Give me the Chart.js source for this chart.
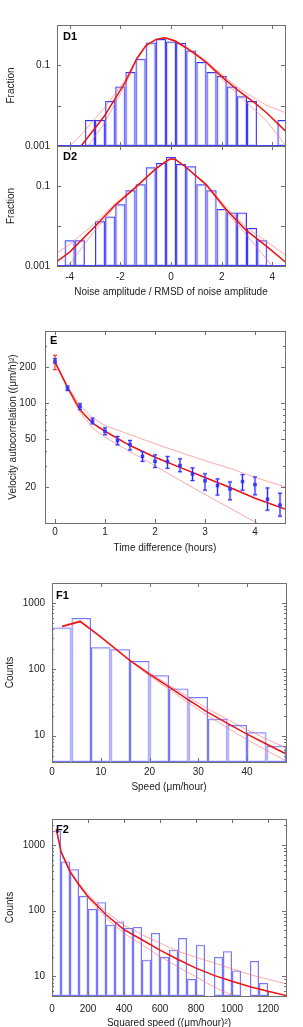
<!DOCTYPE html>
<html>
<head>
<meta charset="utf-8">
<script src="https://cdn.jsdelivr.net/npm/chart.js@4.4.1/dist/chart.umd.min.js"></script>
<style>
  html, body { margin: 0; padding: 0; background: #fff; }
  #wrap { position: relative; width: 303px; height: 1027px; overflow: hidden; }
  canvas { position: absolute; left: 0; }
</style>
</head>
<body>
<div id="wrap">
  <canvas id="d2"></canvas>
  <canvas id="d1"></canvas>
  <canvas id="e"></canvas>
  <canvas id="f1"></canvas>
  <canvas id="f2"></canvas>
</div>
<script>
// --- D1 / D2 : noise amplitude histograms (bin centres, width 0.4) ---
const dBins = [-4.0, -3.6, -3.2, -2.8, -2.4, -2.0, -1.6, -1.2, -0.8, -0.4, 0.0, 0.4, 0.8, 1.2, 1.6, 2.0, 2.4, 2.8, 3.2, 3.6, 4.0, 4.4];
const d1Frac = [null, null, 0.0044, 0.0044, 0.0131, 0.030, 0.068, 0.146, 0.37, 0.447, 0.39, 0.356, 0.234, 0.121, 0.068, 0.0545, 0.030, 0.0172, 0.0131, null, null, 0.0044];
const d2Frac = [0.0044, 0.0044, null, 0.0131, 0.0172, 0.0352, 0.078, 0.11, 0.294, 0.377, 0.53, 0.356, 0.312, 0.11, 0.078, 0.0265, 0.0219, 0.0219, 0.00885, 0.0044, null, null];

const d1FitX = [-3.55, -2.65, -1.84, -1.35, -0.99, -0.59, -0.24, 0.17, 0.59, 0.98, 1.38, 1.77, 2.16, 2.56, 2.95, 3.37, 3.77, 4.5];
const d1Fit  = [0.001, 0.0053, 0.035, 0.146, 0.31, 0.44, 0.48, 0.40, 0.273, 0.187, 0.121, 0.072, 0.043, 0.0265, 0.0172, 0.0109, 0.0067, 0.0024];
const d1HiX  = [-4.0, -3.55, -2.65, -1.84, -1.35, -0.99, -0.59, -0.24, 0.17, 0.59, 0.98, 1.38, 1.77, 2.16, 2.56, 2.95, 3.37, 3.77, 4.5];
const d1Hi   = [0.001, 0.0019, 0.0085, 0.040, 0.15, 0.31, 0.44, 0.49, 0.41, 0.285, 0.196, 0.13, 0.08, 0.049, 0.031, 0.021, 0.0145, 0.0102, 0.0068];
const d1LoX  = [-3.27, -2.65, -1.84, -1.35, -0.99, -0.59, -0.24, 0.17, 0.59, 0.98, 1.38, 1.77, 2.16, 2.56, 2.95, 3.37, 3.77, 4.5];
const d1Lo   = [0.001, 0.0035, 0.030, 0.14, 0.31, 0.44, 0.48, 0.39, 0.265, 0.178, 0.112, 0.066, 0.037, 0.021, 0.0125, 0.0072, 0.0042, 0.0011];

const d2FitX = [-4.5, -3.99, -3.05, -2.23, -1.41, -0.59, -0.2, 0.0, 0.19, 0.59, 1.38, 2.16, 2.95, 3.8, 4.5];
const d2Fit  = [0.0013, 0.00226, 0.009, 0.032, 0.091, 0.273, 0.414, 0.482, 0.455, 0.294, 0.11, 0.0266, 0.008, 0.003, 0.00128];
const d2Hi   = [0.0021, 0.0035, 0.011, 0.035, 0.095, 0.28, 0.41, 0.47, 0.45, 0.30, 0.115, 0.030, 0.0095, 0.004, 0.0019];
const d2LoX  = [-4.07, -3.05, -2.23, -1.41, -0.59, -0.2, 0.0, 0.19, 0.59, 1.38, 2.16, 2.95, 3.6, 4.0];
const d2Lo   = [0.001, 0.007, 0.030, 0.088, 0.27, 0.42, 0.50, 0.46, 0.29, 0.105, 0.024, 0.0063, 0.002, 0.001];

const dXTicks = [-4, -2, 0, 2, 4];
const dYTicks = [0.001, 0.01, 0.1];
const dYLabels = [0.001, 0.1];

// --- E : velocity autocorrelation ---
const eT   = [0, 0.25, 0.5, 0.75, 1.0, 1.25, 1.5, 1.75, 2.0, 2.25, 2.5, 2.75, 3.0, 3.25, 3.5, 3.75, 4.0, 4.25, 4.5];
const eVal = [224, 133.5, 93.8, 70.7, 58.3, 48.7, 45.2, 36.0, 32.7, 32.5, 30.1, 25.6, 22.5, 20.5, 19.2, 22.2, 20.9, 15.8, 14.1];
const eLo  = [216, 127.7, 88.6, 67.2, 54.5, 44.9, 40.7, 32.7, 29.1, 28.6, 26.8, 22.6, 18.8, 17.1, 15.6, 18.8, 17.2, 12.8, 11.4];
const eHi  = [235, 138.8, 98.8, 74.9, 62.2, 52.6, 48.7, 39.4, 37.0, 35.8, 34.3, 28.8, 25.7, 23.3, 22.0, 25.3, 24.2, 19.6, 17.7];
const eModelErr = [190, 251];   // red error bar at t = 0

const eFitT = [0, 0.25, 0.5, 0.75, 1.0, 1.5, 2.0, 2.5, 3.0, 3.5, 4.0, 4.6];
const eFit  = [220, 136, 88, 68, 58.3, 44.3, 35.4, 29.1, 24.0, 19.8, 16.1, 13.1];
const eFitHi = [222, 138, 95.7, 75.5, 65, 54.7, 45.8, 38.9, 33.1, 28.6, 24.0, 20.1];
const eFitLo = [218, 132, 84, 62.2, 52, 39.4, 30.0, 22.7, 17.3, 13.3, 10.2, 7.8];

const eXTicks = [0, 1, 2, 3, 4];
const eYTicks = [20, 50, 100, 200];
const eYMinor = [30, 40, 60, 70, 80, 90, 300, 400];

// --- F1 : speed histogram (bin width 4) ---
const f1Bins   = [2, 6, 10, 14, 18, 22, 26, 30, 34, 38, 42, 46];
const f1Counts = [427, 593, 215, 200, 133, 81.6, 51.3, 38.2, 17.9, 14.5, 11.2, 7.05];
const f1FitX = [2.04, 5.79, 9.88, 15.87, 19.96, 24.0, 27.9, 31.9, 35.9, 39.9, 43.97, 47.85];
const f1Fit  = [443, 527, 312, 138, 84.5, 54.2, 34.9, 22.6, 15.4, 10.6, 7.48, 5.38];
const f1Hi   = [450, 540, 320, 140, 88, 58, 38.5, 25.5, 17.8, 12.3, 8.9, 6.6];
const f1Lo   = [435, 515, 305, 134, 80, 50, 31.5, 20, 13.2, 8.8, 6.0, 4.2];
const f1XTicks = [0, 10, 20, 30, 40];

// --- F2 : squared speed histogram (bin width 50) ---
const f2Bins   = [25, 75, 125, 175, 225, 275, 325, 375, 425, 475, 525, 575, 625, 675, 725, 775, 825, 875, 925, 975, 1025, 1075, 1125, 1175, 1225, 1275];
const f2Counts = [1655, 560, 429, 168, 106, 135, 61, 68.5, 54.4, 56.4, 17.9, 45.7, 19.7, 25.4, 38.4, 9.1, 30.3, null, 19.7, 24.0, 12.2, null, 17.1, 7.9, null, null];
const f2FitX = [24, 50, 100, 150, 200, 250, 300, 400, 500, 600, 700, 800, 900, 1000, 1100, 1200, 1300];
const f2Fit  = [1757, 794, 394, 248, 164, 120, 86.7, 51.3, 36, 25, 18, 13.3, 10.3, 8.4, 6.9, 5.9, 5.1];
const f2Hi   = [1757, 800, 405, 260, 175, 130, 96, 60, 43, 32, 24, 19.5, 16, 13, 10.6, 9.0, 7.7];
const f2LoX  = [24, 50, 100, 150, 200, 250, 300, 400, 500, 600, 700, 800, 900, 1000, 1100];
const f2Lo   = [1757, 790, 385, 238, 155, 110, 78, 45, 30.3, 20, 13.9, 9.8, 6.9, 5.1, 3.8];
const f2XTicks = [0, 200, 400, 600, 800, 1000, 1200];

const fYTicks = [10, 100, 1000];
const f1YMinor = [5, 6, 7, 8, 9, 20, 30, 40, 50, 60, 70, 80, 90, 200, 300, 400, 500, 600, 700, 800, 900, 2000];
const f2YMinor = [6, 7, 8, 9, 20, 30, 40, 50, 60, 70, 80, 90, 200, 300, 400, 500, 600, 700, 800, 900, 2000];

// ---------------------------------------------------------------
const FONT = "'Liberation Sans', Arial, Helvetica, sans-serif";
const TXT = '#222';
Chart.defaults.font.family = FONT;
Chart.defaults.font.size = 10;
Chart.defaults.color = TXT;

const RED = '#ee1111';
const PINK = 'rgba(255,110,110,0.6)';

function pts(xs, ys) {
  return xs.map((x, i) => ({ x: x, y: ys[i] }));
}
function bars(xs, ys, color, width, order) {
  return {
    type: 'bar', data: pts(xs, ys), borderColor: color, borderWidth: width,
    backgroundColor: 'rgba(0,0,0,0)', borderSkipped: false, grouped: false,
    inflateAmount: 0, barPercentage: 1, categoryPercentage: 1, order: order
  };
}
function curve(xs, ys, color, width, order) {
  return {
    type: 'line', data: pts(xs, ys), borderColor: color, borderWidth: width,
    pointRadius: 0, fill: false, tension: 0, order: order
  };
}

function makePanel(id, p) {
  const cv = document.getElementById(id);
  const h = p.canvasBottom - p.canvasTop;
  cv.width = 303; cv.height = h;
  cv.style.top = p.canvasTop + 'px';
  cv.style.width = '303px'; cv.style.height = h + 'px';
  const a0 = p.area;

  const frame = {
    id: 'frame',
    afterDatasetsDraw(chart) {
      const { ctx, chartArea: a, scales: { x, y } } = chart;
      if (p.extraDraw) p.extraDraw(chart);
      ctx.save();
      if (p.baseColor) {
        ctx.strokeStyle = p.baseColor; ctx.lineWidth = 2;
        ctx.beginPath(); ctx.moveTo(a.left, a.bottom); ctx.lineTo(a.right, a.bottom); ctx.stroke();
      }
      ctx.strokeStyle = '#707070'; ctx.lineWidth = 1;
      ctx.strokeRect(a.left + 0.5, a.top + 0.5, a.right - a.left, a.bottom - a.top);
      ctx.beginPath();
      p.x.ticks.forEach(v => {
        const px = Math.round(x.getPixelForValue(v)) + 0.5;
        ctx.moveTo(px, a.top); ctx.lineTo(px, a.top + 4);
        ctx.moveTo(px, a.bottom); ctx.lineTo(px, a.bottom - 4);
      });
      const yTick = (v, len) => {
        const py = Math.round(y.getPixelForValue(v)) + 0.5;
        ctx.moveTo(a.left, py); ctx.lineTo(a.left + len, py);
        ctx.moveTo(a.right, py); ctx.lineTo(a.right - len, py);
      };
      p.y.ticks.forEach(v => yTick(v, 4));
      (p.y.minor || []).forEach(v => yTick(v, 2));
      ctx.stroke();
      ctx.fillStyle = '#000';
      ctx.font = 'bold 11px ' + FONT;
      ctx.textBaseline = 'alphabetic';
      ctx.fillText(p.label.text, a.left + p.label.dx, a.top + p.label.dy);
      ctx.restore();
    }
  };

  return new Chart(cv, {
    type: p.type || 'bar',
    data: { datasets: p.datasets },
    options: {
      responsive: false,
      animation: false,
      devicePixelRatio: 1,
      layout: { padding: { top: a0.top - p.canvasTop, right: 303 - a0.right, left: 0, bottom: 0 } },
      plugins: { legend: { display: false }, tooltip: { enabled: false } },
      scales: {
        x: {
          type: 'linear', min: p.x.min, max: p.x.max, offset: false,
          grid: { display: false, drawTicks: false }, border: { display: false },
          ticks: {
            display: p.x.labels, autoSkip: false, maxRotation: 0, padding: p.x.pad,
            callback: v => String(v)
          },
          title: p.x.title
            ? { display: true, text: p.x.title, padding: { top: 0, bottom: 2 } }
            : { display: false },
          afterBuildTicks: s => { s.ticks = p.x.ticks.map(v => ({ value: v })); },
          afterFit: s => {
            s.height = p.canvasBottom - a0.bottom;
            s.paddingLeft = 0; s.paddingRight = 0;
          }
        },
        y: {
          type: 'logarithmic', min: p.y.min, max: p.y.max,
          grid: { display: false, drawTicks: false }, border: { display: false },
          ticks: {
            autoSkip: false, padding: p.y.pad,
            callback: v => (p.y.labels.includes(v) ? String(v) : '')
          },
          title: { display: true, text: p.y.title, padding: { top: p.y.titlePad, bottom: 0 } },
          afterBuildTicks: s => { s.ticks = p.y.ticks.map(v => ({ value: v })); },
          afterFit: s => {
            s.width = a0.left;
            s.paddingTop = 0; s.paddingBottom = 0;
          }
        }
      }
    },
    plugins: [frame]
  });
}

const DBLUE = '#3636f6';
const DHALO = 'rgba(130,130,255,0.35)';
const FBLUE = '#7777ff';
const FHALO = 'rgba(160,160,255,0.3)';

makePanel('d1', {
  canvasTop: 0, canvasBottom: 153,
  area: { left: 57, top: 25, right: 285, bottom: 146 },
  x: { min: -4.5, max: 4.5, ticks: dXTicks, labels: false, pad: 0 },
  y: { min: 0.001, max: 1, ticks: dYTicks, labels: dYLabels, pad: 7, title: 'Fraction', titlePad: 5 },
  label: { text: 'D1', dx: 6, dy: 14.5 },
  baseColor: '#4040ff',
  datasets: [
    curve(d1FitX, d1Fit, RED, 1.5, 0),
    curve(d1HiX, d1Hi, PINK, 1, 1),
    curve(d1LoX, d1Lo, PINK, 1, 1),
    bars(dBins, d1Frac, DBLUE, 1, 2),
    bars(dBins, d1Frac, DHALO, 2, 3)
  ]
});

makePanel('d2', {
  canvasTop: 140, canvasBottom: 300,
  area: { left: 57, top: 146, right: 285, bottom: 266 },
  x: { min: -4.5, max: 4.5, ticks: dXTicks, labels: true, pad: 5, title: 'Noise amplitude / RMSD of noise amplitude' },
  y: { min: 0.001, max: 1, ticks: dYTicks, labels: dYLabels, pad: 7, title: 'Fraction', titlePad: 5 },
  label: { text: 'D2', dx: 6, dy: 13.5 },
  baseColor: '#4040ff',
  datasets: [
    curve(d2FitX, d2Fit, RED, 1.5, 0),
    curve(d2FitX, d2Hi, PINK, 1, 1),
    curve(d2LoX, d2Lo, PINK, 1, 1),
    bars(dBins, d2Frac, DBLUE, 1, 2),
    bars(dBins, d2Frac, DHALO, 2, 3)
  ]
});

function drawErrors(chart) {
  const { ctx, chartArea: a, scales: { x, y } } = chart;
  ctx.save();
  ctx.beginPath(); ctx.rect(a.left, a.top, a.right - a.left, a.bottom - a.top); ctx.clip();
  const bar = (t, lo, hi) => {
    const px = x.getPixelForValue(t), pl = y.getPixelForValue(lo), ph = y.getPixelForValue(hi);
    ctx.moveTo(px, pl); ctx.lineTo(px, ph);
    ctx.moveTo(px - 2, pl); ctx.lineTo(px + 2, pl);
    ctx.moveTo(px - 2, ph); ctx.lineTo(px + 2, ph);
  };
  ctx.strokeStyle = RED; ctx.lineWidth = 1;
  ctx.beginPath(); bar(eT[0], eModelErr[0], eModelErr[1]); ctx.stroke();
  [['rgba(120,120,255,0.45)', 2.5], ['#2a2aff', 1]].forEach(([col, w]) => {
    ctx.strokeStyle = col; ctx.lineWidth = w;
    ctx.beginPath();
    eT.forEach((t, i) => bar(t, eLo[i], eHi[i]));
    ctx.stroke();
  });
  ctx.restore();
}

makePanel('e', {
  type: 'scatter',
  canvasTop: 325, canvasBottom: 556,
  area: { left: 45, top: 331, right: 285, bottom: 523 },
  x: { min: -0.2, max: 4.6, ticks: eXTicks, labels: true, pad: 3, title: 'Time difference (hours)' },
  y: { min: 10, max: 400, ticks: eYTicks, minor: eYMinor, labels: eYTicks, pad: 9, title: 'Velocity autocorrelation ((μm/h)²)', titlePad: 7 },
  label: { text: 'E', dx: 5, dy: 12.5 },
  extraDraw: drawErrors,
  datasets: [
    { type: 'scatter', data: pts(eT, eVal), pointStyle: 'rect', pointRadius: 2.4,
      backgroundColor: '#1a1aff', borderColor: '#1a1aff', borderWidth: 0, order: 0 },
    curve(eFitT, eFit, RED, 1.5, 1),
    curve(eFitT, eFitHi, PINK, 1, 2),
    curve(eFitT, eFitLo, PINK, 1, 2)
  ]
});

makePanel('f1', {
  canvasTop: 577, canvasBottom: 795,
  area: { left: 52, top: 583, right: 286, bottom: 762 },
  x: { min: 0, max: 48, ticks: f1XTicks, labels: true, pad: 4, title: 'Speed (μm/hour)' },
  y: { min: 4, max: 2000, ticks: fYTicks, minor: f1YMinor, labels: fYTicks, pad: 7, title: 'Counts', titlePad: 4 },
  label: { text: 'F1', dx: 4, dy: 16 },
  datasets: [
    curve(f1FitX, f1Fit, RED, 1.5, 0),
    curve(f1FitX, f1Hi, PINK, 1, 1),
    curve(f1FitX, f1Lo, PINK, 1, 1),
    bars(f1Bins, f1Counts, FBLUE, 1, 2),
    bars(f1Bins, f1Counts, FHALO, 2, 3)
  ]
});

makePanel('f2', {
  canvasTop: 813, canvasBottom: 1031,
  area: { left: 52, top: 819, right: 286, bottom: 996 },
  x: { min: 0, max: 1300, ticks: f2XTicks, labels: true, pad: 7, title: 'Squared speed ((μm/hour)²)' },
  y: { min: 5, max: 2500, ticks: fYTicks, minor: f2YMinor, labels: fYTicks, pad: 7, title: 'Counts', titlePad: 4 },
  label: { text: 'F2', dx: 4, dy: 13.5 },
  datasets: [
    curve(f2FitX, f2Fit, RED, 1.5, 0),
    curve(f2FitX, f2Hi, PINK, 1, 1),
    curve(f2LoX, f2Lo, PINK, 1, 1),
    bars(f2Bins, f2Counts, FBLUE, 1, 2),
    bars(f2Bins, f2Counts, FHALO, 2, 3)
  ]
});
</script>
</body>
</html>
